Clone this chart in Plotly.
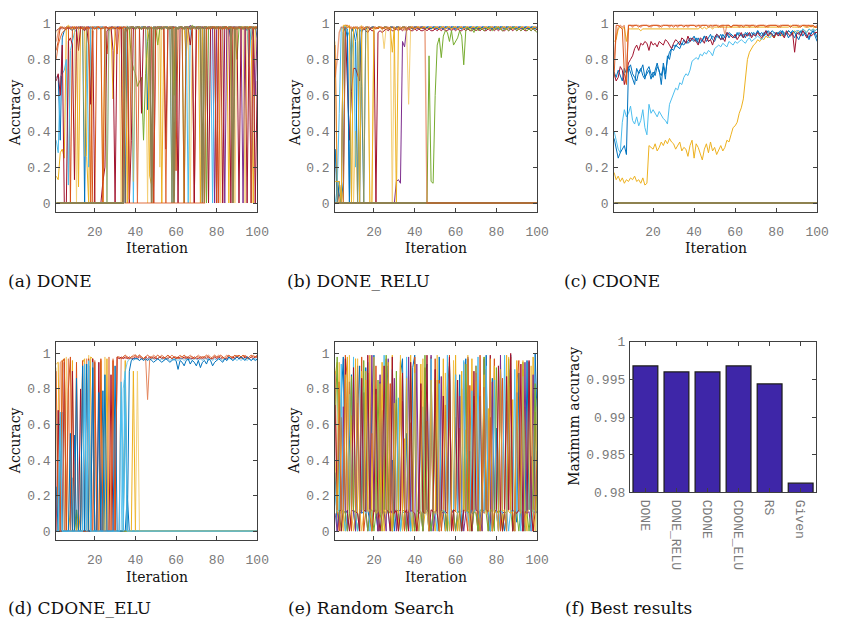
import plotly.graph_objects as go

# MATLAB-style line colours
BLUE = "#0072BD"
ORANGE = "#D95319"
YELLOW = "#EDB120"
PURPLE = "#7E2F8E"
GREEN = "#77AC30"
LBLUE = "#4DBEEE"
DRED = "#A2142F"
OLIVE = "#8E8250"
BAR = "#3E26A8"

iteration = list(range(1, 101))

# ---------------- (a) DONE : accuracy in percent per iteration ----------------
a_blue = [70,71,35,92,96,97,98,97,96,98,
          97,98,98,97,0,97,98,98,97,98,
          98,97,98,98,97,98,96,98,98,97,
          98,98,97,98,0,98,97,98,98,97,
          98,97,98,98,98,52,98,97,98,98,
          97,98,98,97,98,98,97,0,98,98,
          97,98,98,97,98,98,98,97,98,98,
          98,97,98,0,97,98,98,97,98,98,
          98,97,98,98,97,98,91,98,98,97,
          98,98,97,98,96,98,91,97,98,92]
a_orange = [85,90,98,98,97,98,98,0,97,98,
            98,97,98,98,97,98,98,97,0,0,
            98,98,97,98,98,83,98,97,98,98,
            97,98,98,0,98,97,98,98,97,98,
            98,98,97,98,98,97,98,0,98,97,
            98,98,97,98,98,97,98,98,97,18,
            97,98,98,97,98,98,97,98,0,98,
            98,97,98,98,97,98,98,97,98,98,
            0,98,97,98,98,97,98,98,97,98,
            98,97,98,98,97,98,98,97,98,98]
a_yellow = [15,13,28,30,25,98,99,98,97,98,
            97,9,98,97,98,26,0,98,98,97,
            98,98,97,0,98,98,97,98,58,98,
            97,98,98,97,98,0,97,98,98,97,
            98,98,97,98,98,97,15,10,98,97,
            98,98,0,97,98,98,97,98,98,97,
            98,98,97,98,82,98,98,97,98,98,
            97,0,98,98,97,98,98,97,98,98,
            97,98,98,97,98,0,98,97,98,98,
            97,98,98,97,98,98,97,0,98,97]
a_purple = [96,97,97,98,97,98,97,98,98,97,
            98,97,98,98,97,98,98,97,98,98,
            97,98,98,97,98,98,97,98,98,97,
            98,98,97,98,98,97,98,98,97,98,
            98,97,98,98,97,98,98,97,98,98,
            97,98,98,97,98,98,97,98,98,97,
            98,98,97,98,98,97,99,98,98,97,
            98,98,97,98,98,97,98,98,0,98,
            97,98,98,0,97,98,98,97,98,98,
            97,98,0,98,97,98,0,97,60,98]
a_green = [0,0,0,0,0,0,0,0,0,0,
           0,0,0,0,0,0,0,0,0,0,
           0,0,0,0,0,0,0,0,0,0,
           0,0,0,0,97,98,97,80,75,72,
           65,68,70,35,72,90,97,98,97,98,
           88,97,98,97,98,98,97,98,60,98,
           97,98,98,0,98,97,98,99,98,97,
           98,98,97,98,0,98,97,98,98,97,
           98,97,98,98,97,98,98,97,98,80,
           97,98,98,97,98,98,97,98,98,97]
a_lblue = [35,28,70,72,74,80,10,85,90,95,
           97,98,97,98,98,97,20,98,97,98,
           98,97,98,98,97,0,98,98,97,98,
           98,97,98,98,97,98,98,97,0,98,
           98,97,98,98,97,98,98,97,98,98,
           97,98,98,97,98,98,97,98,98,97,
           98,98,97,98,98,0,98,97,98,98,
           97,98,98,97,98,98,97,0,98,97,
           98,98,97,98,98,97,98,98,97,98,
           98,97,98,98,97,76,98,98,97,98]
a_dred = [68,72,60,88,0,0,90,92,88,13,
          97,85,98,97,96,98,88,55,96,0,
          0,0,0,12,20,96,97,98,85,0,
          98,97,98,0,97,98,0,35,98,97,
          98,97,50,98,97,98,98,97,0,98,
          98,97,98,98,30,98,97,98,98,97,
          0,98,97,98,98,97,88,98,0,98,
          97,98,98,97,98,0,97,98,98,0,
          98,97,0,98,98,97,0,98,98,97,
          0,98,97,98,0,98,98,97,0,68]
a_olive = [0,0,0,0,0,0,0,0,0,0,
           0,0,0,0,0,0,0,0,0,0,
           0,0,0,0,0,0,0,0,0,0,
           0,0,0,0,95,98,97,98,98,97,
           98,98,97,98,98,97,98,0,98,97,
           98,98,97,98,98,97,98,98,0,98,
           97,98,98,97,98,98,97,98,98,97,
           98,98,0,98,98,97,98,98,97,98,
           98,97,98,98,97,98,98,0,98,97,
           98,98,97,98,98,97,98,98,97,98]
a_salmon = [90,95,98,97,98,97,98,97,98,98,
            97,98,98,97,98,98,97,98,98,97,
            98,98,97,98,98,97,98,98,97,98,
            98,97,98,98,0,0,0,0,0,0,
            0,0,0,0,0,0,0,0,0,0,
            0,0,0,0,0,0,0,0,0,0,
            0,0,0,0,0,0,0,0,0,0,
            0,0,0,0,97,98,97,98,98,97,
            98,98,97,98,98,97,98,98,97,98,
            98,97,98,98,97,98,98,97,98,98]
a_lyellow = [95,97,98,98,97,98,98,97,98,98,
             0,98,97,98,26,98,97,0,98,98,
             97,98,98,97,98,0,98,97,98,98,
             97,98,0,98,98,97,98,98,12,98,
             97,98,98,97,98,0,98,97,98,98,
             97,20,98,98,97,98,98,0,98,97,
             98,98,97,98,98,97,0,98,98,97,
             98,98,97,0,98,98,97,98,98,97,
             98,0,98,97,98,98,97,98,0,98,
             97,98,98,0,97,98,98,97,98,98]
a_red2 = [80,88,92,95,96,97,98,97,98,97,
          98,98,97,98,98,97,98,0,98,97,
          98,98,97,0,98,98,97,98,98,97,
          83,98,97,98,98,97,2,98,98,97,
          0,98,97,98,98,97,98,98,0,98,
          97,98,98,97,0,98,98,97,98,98,
          97,98,98,0,98,97,98,98,97,98,
          98,97,0,98,98,97,98,98,97,0,
          98,98,97,98,98,97,98,0,98,97,
          98,98,97,98,98,97,0,98,98,97]

# ---------------- (b) DONE_RELU ----------------
b_blue = [30,10,5,0,12,98,97,0,95,98,
          97,90,0,96,97,98,98,97,98,98,
          97,98,98,97,98,98,97,98,98,97,
          98,98,97,98,98,97,98,98,97,98,
          98,97,98,98,97,98,98,97,98,98,
          97,98,98,97,98,98,97,98,98,97,
          98,98,97,98,98,97,98,98,97,98,
          98,97,98,98,97,98,98,97,98,98,
          97,98,98,97,98,98,97,98,98,97,
          98,98,97,98,98,97,98,98,97,98]
b_orange = [88,12,0,0,98,99,99,98,98,97,
            98,98,97,98,98,97,98,98,97,98,
            98,97,98,98,97,98,98,97,98,98,
            97,98,98,97,98,98,97,98,98,97,
            98,98,97,98,98,97,98,98,97,98,
            98,97,98,98,97,98,98,97,98,98,
            97,98,98,97,98,98,97,98,98,97,
            98,98,97,98,98,97,98,98,97,98,
            98,97,98,98,97,98,98,97,98,98,
            97,98,98,97,98,98,97,98,98,97]
b_yellow = [12,12,12,0,99,99,98,99,0,98,
            97,98,0,98,97,98,98,0,0,98,
            97,98,98,97,98,98,97,98,84,98,
            0,98,97,98,98,97,98,98,98,97,
            98,98,97,98,98,97,98,98,97,98,
            98,97,98,98,97,98,98,97,98,98,
            97,98,98,97,98,98,97,98,98,97,
            98,98,97,98,98,97,98,98,97,98,
            98,97,98,98,97,98,98,97,98,98,
            97,98,98,97,98,98,97,98,98,97]
b_purple = [0,0,0,0,0,0,0,0,0,0,
            0,0,0,0,0,0,0,0,0,0,
            0,0,0,0,0,0,0,0,0,0,
            12,13,11,90,87,97,98,97,98,98,
            97,98,98,97,98,98,97,98,98,97,
            98,98,97,98,98,97,98,98,97,98,
            98,97,98,98,97,98,98,97,98,98,
            97,98,98,97,98,98,97,98,98,97,
            98,98,97,98,98,97,98,98,97,98,
            98,97,98,98,97,98,98,97,98,98]
b_green = [0,0,0,0,0,0,0,0,0,0,
           0,0,0,0,0,0,0,0,0,0,
           0,0,0,0,0,0,0,0,0,0,
           0,0,0,0,0,0,0,0,0,0,
           0,0,0,0,0,0,82,12,11,60,
           88,92,81,93,96,95,90,96,88,90,
           92,96,93,77,96,98,96,97,95,98,
           96,97,97,96,97,98,97,96,97,97,
           98,97,96,97,97,96,97,98,97,96,
           97,96,97,97,96,97,96,97,96,95]
b_lblue = [0,8,50,98,97,99,96,93,80,95,
           20,98,97,95,97,98,98,97,98,98,
           97,98,98,97,98,98,97,98,98,97,
           98,98,97,98,98,97,98,98,97,98,
           98,97,98,98,97,98,98,97,98,98,
           97,98,98,97,98,98,97,98,98,97,
           98,98,97,98,98,97,98,98,97,98,
           98,97,98,98,97,98,98,97,98,98,
           97,98,98,97,98,98,97,98,98,97,
           98,98,97,98,98,97,98,98,97,98]
b_dred = [0,0,0,0,0,98,60,35,62,75,
          75,72,68,96,97,96,95,97,96,96,
          0,95,96,95,96,97,96,97,96,96,
          97,96,97,96,97,96,97,96,96,97,
          96,97,96,96,97,96,97,96,96,97,
          96,97,96,97,96,96,97,96,97,96,
          97,96,96,97,96,97,96,96,97,96,
          97,96,97,96,96,97,96,97,96,97,
          96,97,96,96,97,96,97,96,97,96,
          97,96,97,96,96,97,96,97,96,97]
b_olive = [0,0,0,0,0,0,0,0,0,0,
           0,0,0,0,0,0,0,0,0,0,
           0,0,0,0,0,0,0,0,0,0,
           0,0,0,0,0,0,0,0,0,0,
           0,0,0,0,0,0,0,0,0,0,
           0,0,0,0,0,0,0,0,0,0,
           0,0,0,0,0,0,0,0,0,0,
           0,0,0,0,0,0,0,0,0,0,
           0,0,0,0,0,0,0,0,0,0,
           0,0,0,0,0,0,0,0,0,0]
b_salmon = [70,80,95,98,98,97,98,98,97,98,
            98,97,98,98,97,98,98,97,98,98,
            97,98,98,97,98,98,97,98,98,97,
            98,98,97,98,98,97,98,98,97,98,
            98,97,98,98,97,0,0,0,0,0,
            0,0,0,0,0,0,0,0,0,0,
            0,0,0,0,0,0,0,0,0,0,
            0,0,0,0,0,0,0,0,0,0,
            0,0,0,0,0,0,0,0,0,0,
            0,0,0,0,0,0,0,0,0,0]
b_lyellow = [90,0,0,10,0,99,98,98,97,0,
             40,0,98,99,0,97,96,0,0,98,
             97,98,98,97,86,98,97,98,0,98,
             97,98,97,98,96,97,55,98,98,97,
             98,98,97,98,98,97,98,98,97,98,
             98,97,98,98,97,98,98,97,98,98,
             97,98,98,97,98,98,97,98,98,97,
             98,98,97,98,98,97,98,98,97,98,
             98,97,98,98,97,98,98,97,98,98,
             97,98,98,97,98,98,97,98,98,97]
b_blue2 = [30,0,12,0,95,98,92,0,97,96,
           90,0,97,65,0,97,98,97,98,98,
           97,98,98,97,98,98,97,98,98,97,
           98,98,97,98,98,97,98,98,97,98,
           98,97,98,98,97,98,98,97,98,98,
           97,98,98,97,98,98,97,98,98,97,
           98,98,97,98,98,97,98,98,97,98,
           98,97,98,98,97,98,98,97,98,98,
           97,98,98,97,98,98,97,98,98,97,
           98,98,97,98,98,97,98,98,97,98]

# ---------------- (c) CDONE ----------------
c_olive = [0,0,0,0,0,0,0,0,0,0,
           0,0,0,0,0,0,0,0,0,0,
           0,0,0,0,0,0,0,0,0,0,
           0,0,0,0,0,0,0,0,0,0,
           0,0,0,0,0,0,0,0,0,0,
           0,0,0,0,0,0,0,0,0,0,
           0,0,0,0,0,0,0,0,0,0,
           0,0,0,0,0,0,0,0,0,0,
           0,0,0,0,0,0,0,0,0,0,
           0,0,0,0,0,0,0,0,0,0]
c_yellow_low = [17,13,15,12,14,11,13,12,14,13,
                15,12,13,11,14,10,11,32,31,30,
                33,29,31,34,32,35,33,36,34,33,
                30,32,34,29,31,30,26,32,35,25,
                33,31,27,24,30,33,28,34,29,31,
                27,30,32,29,31,35,34,38,42,43,
                45,50,53,58,70,80,84,86,88,89,
                91,90,92,91,93,92,94,93,92,94,
                95,94,93,95,94,96,95,94,96,95,
                96,95,97,96,95,97,96,97,96,97]
c_lblue = [40,35,30,28,45,52,48,50,54,46,
           44,48,43,46,52,42,38,55,50,52,
           50,48,51,49,47,46,44,55,58,62,
           64,63,67,66,70,72,71,74,79,80,
           81,80,83,82,84,83,85,84,82,86,
           87,88,87,89,88,87,90,89,88,90,
           89,90,91,90,89,91,92,90,91,92,
           93,92,91,93,94,93,92,94,95,94,
           95,94,96,95,94,96,95,96,95,96,
           96,95,97,96,95,97,96,97,96,97]
c_blue2 = [36,30,25,28,30,32,27,75,77,72,
           70,68,73,75,71,69,74,76,72,70,
           74,78,73,71,76,69,82,80,86,88,
           87,89,90,88,91,89,90,92,91,93,
           90,92,89,91,93,90,92,94,91,90,
           93,92,94,91,93,95,92,94,93,92,
           95,93,94,92,95,94,93,95,94,93,
           96,94,95,93,96,95,94,96,95,94,
           95,93,96,94,95,92,94,96,95,93,
           91,94,96,95,93,91,94,96,95,92]
c_blue = [73,70,74,71,68,75,72,76,73,70,
          66,75,72,74,77,70,72,74,69,73,
          71,76,74,66,78,72,80,84,86,85,
          88,87,86,89,88,90,89,90,91,90,
          92,89,91,90,93,92,90,91,93,92,
          94,93,91,94,92,93,95,94,93,92,
          94,95,93,94,92,95,94,93,95,94,
          96,94,93,95,94,96,95,94,93,95,
          94,96,95,93,94,96,95,94,92,95,
          94,96,93,95,94,92,95,96,93,90]
c_dred = [72,68,70,76,74,66,72,78,80,82,
          86,88,85,89,88,90,89,85,90,88,
          89,87,90,89,88,91,90,88,86,89,
          91,90,88,92,91,89,93,90,92,91,
          90,88,92,91,89,93,90,91,88,92,
          94,93,91,92,90,95,94,93,92,94,
          91,93,95,92,94,93,95,92,94,93,
          95,93,92,94,96,93,95,94,92,95,
          93,95,94,92,96,94,93,95,84,94,
          95,93,96,94,92,95,93,94,95,95]
c_yellow = [90,91,97,98,97,98,90,97,97,97,
            97,97,97,96,97,97,97,97,97,97,
            97,97,97,97,97,97,97,97,97,97,
            97,97,97,97,97,97,97,97,97,97,
            97,97,98,97,98,97,98,98,97,98,
            98,98,98,98,98,98,98,98,98,98,
            98,98,98,98,98,98,98,98,98,98,
            98,98,98,98,98,98,98,98,98,98,
            98,98,98,98,98,98,99,98,98,98,
            98,98,99,98,98,98,99,98,98,98]
c_salmon = [80,93,98,99,98,99,70,99,99,98,
            99,99,99,98,99,99,99,99,98,99,
            99,99,98,99,99,99,99,98,99,99,
            99,98,99,99,99,99,98,99,99,99,
            99,99,98,99,99,99,99,99,98,99,
            99,99,98,99,94,99,99,98,99,99,
            99,98,99,99,99,99,98,99,99,99,
            98,99,99,99,99,98,99,99,99,99,
            99,98,99,99,99,99,98,99,99,99,
            98,99,99,99,98,99,99,99,98,99]
c_orange = [70,99,99,98,97,72,66,99,99,99,
            99,99,98,99,99,99,99,98,99,99,
            99,99,99,98,99,99,99,99,99,98,
            99,99,99,99,98,99,99,99,99,99,
            98,99,99,99,99,99,98,99,99,99,
            99,98,99,99,99,99,99,98,99,99,
            99,99,99,98,99,99,99,99,99,98,
            99,99,99,99,98,99,99,99,99,99,
            98,99,99,99,99,99,98,99,99,99,
            99,98,99,99,99,99,98,99,98,98]

# ---------------- (d) CDONE_ELU ----------------
d_green = [0,0,0,0,0,0,0,0,0,0,
           12,0,0,0,0,0,0,0,0,0,
           0,0,0,0,0,0,0,0,0,0,
           0,0,0,0,0,0,0,0,0,0,
           0,0,0,0,0,0,0,0,0,0,
           0,0,0,0,0,0,0,0,0,0,
           0,0,0,0,0,0,0,0,0,0,
           0,0,0,0,0,0,0,0,0,0,
           0,0,0,0,0,0,0,0,0,0,
           0,0,0,0,0,0,0,0,0,0]
d_blue2 = [0,0,0,0,0,0,0,0,0,54,
           0,0,0,0,0,0,93,0,0,0,
           0,0,0,79,0,0,0,0,0,0,
           0,0,0,0,0,20,0,0,0,0,
           0,0,0,0,0,0,0,0,0,0,
           0,0,0,0,0,0,0,0,0,0,
           0,0,0,0,0,0,0,0,0,0,
           0,0,0,0,0,0,0,0,0,0,
           0,0,0,0,0,0,0,0,0,0,
           0,0,0,0,0,0,0,0,0,0]
d_lyellow = [92,0,0,0,0,98,0,0,0,0,
             0,0,0,0,0,0,99,0,0,0,
             0,0,0,0,98,0,0,0,0,0,
             0,0,0,0,0,0,0,0,0,0,
             90,0,0,0,0,0,0,0,0,0,
             0,0,0,0,0,0,0,0,0,0,
             0,0,0,0,0,0,0,0,0,0,
             0,0,0,0,0,0,0,0,0,0,
             0,0,0,0,0,0,0,0,0,0,
             0,0,0,0,0,0,0,0,0,0]
d_yellow = [94,95,0,96,97,0,0,12,96,0,
            0,10,0,95,97,0,0,98,97,0,
            0,0,96,0,0,97,0,0,0,0,
            0,0,0,0,96,0,0,0,90,0,
            0,0,0,0,0,0,0,0,0,0,
            0,0,0,0,0,0,0,0,0,0,
            0,0,0,0,0,0,0,0,0,0,
            0,0,0,0,0,0,0,0,0,0,
            0,0,0,0,0,0,0,0,0,0,
            0,0,0,0,0,0,0,0,0,0]
d_dred = [0,68,0,0,95,0,0,0,90,0,
          0,0,80,0,0,0,0,0,97,0,
          0,95,0,0,0,0,0,88,0,0,
          98,97,98,97,98,97,98,97,97,98,
          97,98,97,97,98,97,98,97,98,97,
          97,98,97,98,97,97,98,97,98,97,
          98,97,97,98,97,98,97,97,98,97,
          97,98,97,98,97,98,97,97,98,97,
          98,97,98,97,97,98,97,98,97,98,
          97,98,97,98,98,97,98,97,98,98]
d_lblue2 = [0,0,0,67,0,0,0,0,30,0,
            0,0,0,92,0,0,0,0,95,0,
            0,0,0,0,0,0,0,0,0,0,
            0,0,0,80,90,95,97,97,96,97,
            97,96,97,97,96,97,96,97,97,96,
            97,96,97,96,97,97,96,97,96,97,
            96,97,97,96,97,96,97,96,97,97,
            96,97,96,97,97,96,97,96,97,96,
            97,97,96,97,96,97,97,96,97,96,
            97,96,97,97,96,97,96,97,97,96]
d_salmon = [0,0,95,96,0,0,97,0,0,0,
            0,0,0,0,0,97,0,0,0,96,
            0,0,0,0,0,0,98,0,97,0,
            0,0,97,98,97,98,97,98,99,99,
            98,99,98,97,98,74,96,98,99,98,
            97,98,99,98,97,98,98,99,98,97,
            98,99,98,97,98,98,99,98,97,98,
            99,98,98,97,98,99,98,97,98,98,
            99,98,97,98,99,98,98,97,98,99,
            98,97,98,99,98,97,98,99,98,98]
d_orange = [90,0,0,95,97,0,80,98,0,0,
            95,0,0,96,0,0,97,0,0,95,
            0,0,97,0,0,0,0,0,96,0,
            98,98,97,98,99,98,97,98,98,99,
            98,99,98,97,98,99,98,98,97,98,
            99,98,98,97,98,99,98,97,98,98,
            97,98,98,99,98,97,98,98,97,98,
            98,97,98,98,99,98,97,98,99,98,
            98,99,98,97,98,99,98,98,99,98,
            99,98,99,98,97,98,99,98,98,99]
d_blue = [25,0,60,0,0,0,0,55,0,0,
          86,0,0,93,0,94,0,0,92,0,
          0,78,0,0,88,0,0,0,0,93,
          0,0,0,0,85,0,90,96,97,97,
          97,96,97,96,97,96,97,96,95,96,
          97,96,95,96,97,96,95,96,97,96,
          91,96,95,93,96,97,94,96,95,93,
          96,92,95,96,94,97,96,93,95,96,
          97,96,95,97,96,98,97,96,97,98,
          97,98,97,96,98,97,96,97,96,97]
d_lblue = [0,0,67,0,0,0,0,0,0,0,
           0,0,0,0,94,0,96,0,0,0,
           0,0,0,0,0,0,0,0,0,0,
           0,0,84,0,90,0,0,0,0,0,
           0,0,0,0,0,0,0,0,0,0,
           0,0,0,0,0,0,0,0,0,0,
           0,0,0,0,0,0,0,0,0,0,
           0,0,0,0,0,0,0,0,0,0,
           0,0,0,0,0,0,0,0,0,0,
           0,0,0,0,0,0,0,0,0,0]

# ---------------- (e) Random Search ----------------
e_blue = [33,0,11,75,98,12,10,45,88,11,
          0,66,93,10,11,92,12,5,70,99,
          11,0,84,12,10,76,93,11,40,0,
          11,12,88,97,10,55,11,0,92,99,
          11,12,63,10,85,94,11,0,10,72,
          12,98,11,10,0,81,93,12,11,64,
          10,88,0,11,97,12,45,10,11,93,
          0,76,11,12,99,10,0,86,11,58,
          12,94,10,0,11,73,99,11,12,5,
          89,10,11,0,96,12,42,11,100,61]
e_orange = [90,12,0,64,11,99,85,10,0,81,
            11,72,12,98,0,11,89,10,55,11,
            93,0,12,68,11,97,10,83,0,12,
            74,11,95,10,0,87,11,61,12,98,
            0,10,79,11,92,12,0,66,10,97,
            11,85,0,12,71,11,99,10,0,88,
            12,58,11,95,10,0,82,12,76,11,
            0,99,12,10,91,0,64,11,97,12,
            10,0,86,11,73,12,98,0,10,83,
            96,11,0,70,12,95,10,0,67,11]
e_yellow = [88,95,70,10,12,0,98,11,65,12,
            97,10,0,90,11,85,12,99,0,11,
            77,12,10,95,0,11,83,10,99,12,
            11,0,96,12,52,11,10,99,0,87,
            12,11,94,0,10,62,12,98,11,0,
            85,10,12,97,0,11,72,12,10,99,
            0,11,90,12,57,10,0,97,11,84,
            12,10,0,98,11,69,12,0,93,10,
            11,87,0,12,99,11,10,74,0,96,
            12,11,91,10,0,86,12,98,11,70]
e_purple = [10,0,11,12,70,10,0,84,11,12,
            0,93,10,11,78,12,0,10,99,11,
            12,0,88,10,11,0,97,12,10,86,
            0,11,12,73,10,0,98,11,12,0,
            94,10,11,0,82,12,10,99,0,11,
            12,0,87,10,11,0,95,12,10,0,
            11,76,12,0,10,98,11,0,12,89,
            10,11,0,97,12,10,0,84,11,12,
            0,99,10,11,0,91,12,10,0,78,
            11,12,0,95,10,11,0,88,12,10]
e_green = [60,98,11,0,12,10,0,11,87,12,
           10,0,11,12,96,10,0,11,12,0,
           10,85,11,0,12,99,10,11,0,12,
           90,10,0,11,12,0,10,93,11,0,
           12,10,11,0,99,12,10,0,11,86,
           10,0,12,11,10,0,97,12,11,0,
           10,12,0,11,94,10,12,0,11,10,
           0,12,11,98,10,0,12,11,0,92,
           10,12,0,11,10,97,12,0,11,10,
           0,12,95,11,10,0,12,11,83,0]
e_lblue = [20,11,12,94,10,0,11,77,12,98,
           10,0,11,81,12,10,95,0,11,12,
           68,10,0,11,99,12,10,0,91,11,
           12,75,0,10,11,98,12,0,10,89,
           11,0,12,70,10,11,0,97,12,10,
           0,83,11,12,10,99,0,11,12,88,
           10,0,11,96,12,10,0,79,11,12,
           98,0,10,11,93,12,0,10,85,11,
           0,12,10,99,11,0,12,10,91,11,
           12,0,87,10,11,95,0,12,10,74]
e_dred = [71,12,84,0,11,97,10,0,12,92,
          11,10,0,86,12,11,99,10,0,12,
          80,11,0,10,93,12,11,0,98,10,
          12,0,11,89,10,12,0,95,11,10,
          0,12,83,11,10,99,0,12,11,91,
          10,0,12,76,11,10,98,0,12,11,
          85,10,0,12,11,97,10,0,90,12,
          11,0,10,81,12,11,99,0,10,12,
          93,11,0,10,87,12,100,0,11,10,
          12,94,0,11,10,96,12,0,11,45]
e_gold = [40,10,95,11,0,88,12,99,10,0,
          11,97,12,0,10,90,11,12,0,98,
          10,11,83,0,12,10,95,11,0,72,
          12,10,99,0,11,86,12,10,0,94,
          11,0,12,97,10,11,0,85,12,10,
          99,0,11,12,89,10,0,12,96,11,
          10,0,80,12,11,99,0,10,12,93,
          11,0,12,88,10,11,97,0,12,10,
          0,91,11,12,0,98,10,11,0,84,
          12,10,96,0,11,12,93,10,0,75]

# ---------------- (f) Best results ----------------
methods = ["DONE", "DONE_RELU", "CDONE", "CDONE_ELU", "RS", "Given"]
best_accuracy = [0.9968, 0.9960, 0.9960, 0.9968, 0.9944, 0.9812]

# draw order, colour, opacity and width per panel
panel_series = {
    1: [(a_blue, BLUE, 1, 1), (a_orange, ORANGE, 1, 1), (a_yellow, YELLOW, 1, 1),
        (a_purple, PURPLE, 1, 1), (a_green, GREEN, 1, 1), (a_lblue, LBLUE, 1, 1),
        (a_dred, DRED, 1, 1), (a_lyellow, YELLOW, 0.6, 1), (a_red2, ORANGE, 0.85, 1),
        (a_olive, OLIVE, 1, 1.8), (a_salmon, ORANGE, 0.55, 1.4)],
    2: [(b_blue, BLUE, 1, 1), (b_orange, ORANGE, 1, 1), (b_lblue, LBLUE, 1, 1),
        (b_dred, DRED, 1, 1), (b_purple, PURPLE, 1, 1), (b_blue2, BLUE, 1, 1),
        (b_yellow, YELLOW, 1, 1), (b_lyellow, YELLOW, 0.6, 1), (b_green, GREEN, 1, 1),
        (b_olive, OLIVE, 1, 1.8), (b_salmon, ORANGE, 0.55, 1.4)],
    3: [(c_olive, OLIVE, 1, 2), (c_yellow_low, YELLOW, 1, 1), (c_lblue, LBLUE, 1, 1),
        (c_blue2, BLUE, 1, 1), (c_blue, BLUE, 1, 1), (c_dred, DRED, 1, 1),
        (c_yellow, YELLOW, 1, 1), (c_salmon, ORANGE, 0.55, 1.2), (c_orange, ORANGE, 1, 1)],
    4: [(d_green, GREEN, 1, 1.5), (d_blue2, BLUE, 1, 1), (d_lyellow, YELLOW, 0.6, 1),
        (d_yellow, YELLOW, 1, 1), (d_dred, DRED, 1, 1), (d_lblue2, LBLUE, 0.8, 1),
        (d_salmon, ORANGE, 0.7, 1), (d_orange, ORANGE, 1, 1), (d_blue, BLUE, 1, 1),
        (d_lblue, LBLUE, 1, 1.3)],
    5: [(e_blue, BLUE, 1, 1), (e_orange, ORANGE, 1, 1), (e_yellow, YELLOW, 1, 1),
        (e_purple, PURPLE, 1, 1), (e_green, GREEN, 1, 1), (e_lblue, LBLUE, 1, 1),
        (e_dred, DRED, 1, 1), (e_gold, YELLOW, 0.8, 1)],
}

fig = go.Figure()
for k, series in panel_series.items():
    suffix = "" if k == 1 else str(k)
    for vals, color, op, w in series:
        if len(vals) != len(iteration):
            raise ValueError(f"panel {k}: series has {len(vals)} points")
        fig.add_trace(go.Scatter(
            x=iteration, y=[v / 100 for v in vals], mode="lines",
            line=dict(color=color, width=w), opacity=op,
            xaxis="x" + suffix, yaxis="y" + suffix, hoverinfo="skip"))

fig.add_trace(go.Bar(
    x=methods, y=best_accuracy, xaxis="x6", yaxis="y6",
    marker=dict(color=BAR, line=dict(color="#1a1a1a", width=1.2)),
    width=0.8))

W, H = 841, 632


def xd(l, r):
    return [l / W, r / W]


def yd(t, b):
    return [1 - b / H, 1 - t / H]


TICKFONT = dict(family="Liberation Mono", size=13, color="#7a7a7a")
AX = dict(showline=True, linecolor="#404040", linewidth=1, mirror="ticks",
          ticks="inside", ticklen=4, tickcolor="#404040", tickwidth=1,
          showgrid=False, zeroline=False, tickfont=TICKFONT, fixedrange=True)

xdoms = {1: (57, 261), 2: (340, 545), 3: (623, 829), 4: (57, 261), 5: (340, 545)}
ydoms = {1: (6, 211), 2: (6, 211), 3: (6, 211), 4: (344, 547), 5: (344, 547)}

layout = dict(width=W, height=H, margin=dict(l=0, r=0, t=0, b=0),
              paper_bgcolor="white", plot_bgcolor="white", showlegend=False,
              bargap=0.2)

ytick_vals = [0, 0.2, 0.4, 0.6, 0.8, 1]
ytick_text = ["0", "0.2", "0.4", "0.6", "0.8", "1"]
for k in range(1, 6):
    suffix = "" if k == 1 else str(k)
    layout["xaxis" + suffix] = dict(AX, domain=xd(*xdoms[k]), range=[1, 100],
                                    tickvals=[20, 40, 60, 80, 100],
                                    anchor="y" + suffix, ticklabelstandoff=7)
    layout["yaxis" + suffix] = dict(AX, domain=yd(*ydoms[k]), range=[-0.05, 1.065],
                                    tickvals=ytick_vals, ticktext=ytick_text,
                                    anchor="x" + suffix, ticklabelstandoff=2)

layout["xaxis6"] = dict(AX, domain=xd(639, 828), anchor="y6", type="category",
                        range=[-0.5, 5.5], tickangle=90, ticklabelstandoff=4)
layout["yaxis6"] = dict(AX, domain=yd(344, 498), anchor="x6", range=[0.98, 1.0],
                        tickvals=[0.98, 0.985, 0.99, 0.995, 1.0],
                        ticktext=["0.98", "0.985", "0.99", "0.995", "1"],
                        ticklabelstandoff=1)

SERIF = "DejaVu Serif"
annotations = []


def label(text, x, y, size=14, angle=0, xanchor="center"):
    annotations.append(dict(text=text, x=x / W, y=1 - y / H, xref="paper", yref="paper",
                            showarrow=False, textangle=angle, xanchor=xanchor,
                            yanchor="middle", font=dict(family=SERIF, size=size, color="#111")))


for x, y in [(16, 109), (300, 109), (580, 109), (16, 445), (299, 445)]:
    label("Accuracy", x, y, angle=-90)
label("Maximum accuracy", 582, 420, angle=-90)
for x, y in [(159, 248), (442, 248), (726, 248), (159, 585), (442, 585)]:
    label("Iteration", x, y)

captions = [("(a) DONE", 6, 282), ("(b) DONE_RELU", 289, 282), ("(c) CDONE", 570, 282),
            ("(d) CDONE_ELU", 6, 617), ("(e) Random Search", 290, 617),
            ("(f) Best results", 571, 617)]
for text, x, y in captions:
    label(text, x, y, size=17, xanchor="left")

layout["annotations"] = annotations
fig.update_layout(**layout)
fig.write_html(
    "out.html",
    post_script="document.body.style.margin='0';document.body.style.overflow='hidden';")
